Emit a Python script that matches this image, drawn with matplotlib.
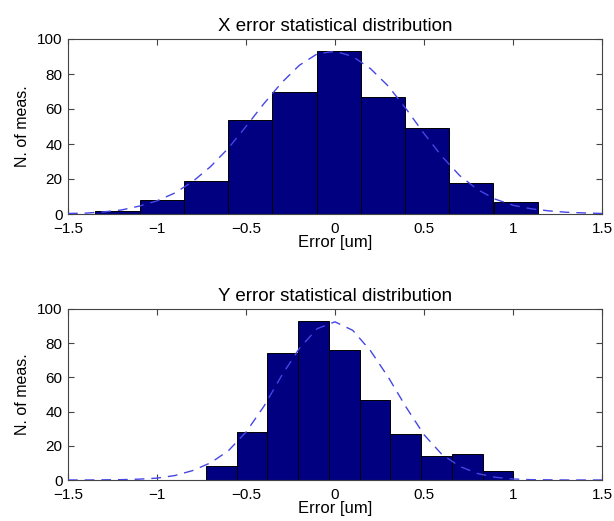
import matplotlib
matplotlib.use("Agg")
import matplotlib.pyplot as plt

# ── Data ─────────────────────────────────────────────────
X_CENTERS = [-1.222, -0.973, -0.725, -0.476, -0.228, 0.021, 0.269, 0.518, 0.766, 1.015]
X_COUNTS  = [2, 8, 19, 54, 70, 93, 67, 49, 18, 7]
X_WIDTH   = 0.2485

Y_CENTERS = [-0.639, -0.466, -0.293, -0.121, 0.052, 0.225, 0.398, 0.570, 0.743, 0.916]
Y_COUNTS  = [8, 28, 74, 93, 76, 47, 27, 14, 15, 5]
Y_WIDTH   = 0.1727

FIT_X = [-1.5, -1.4, -1.3, -1.2, -1.1, -1.0, -0.9, -0.8, -0.7, -0.6, -0.5,
         -0.4, -0.3, -0.2, -0.1, 0.0, 0.1, 0.2, 0.3, 0.4, 0.5,
         0.6, 0.7, 0.8, 0.9, 1.0, 1.1, 1.2, 1.3, 1.4, 1.5]
FIT_XERR = [0.3, 0.5, 1.2, 2.3, 4.5, 7.5, 12, 18.5, 27, 37.5, 50,
            63, 75, 85, 91.5, 93, 90, 83, 73, 60, 46,
            33, 22, 14, 8.5, 5, 3, 1.8, 1.0, 0.6, 0.3]
FIT_YERR = [0, 0, 0.1, 0.2, 0.5, 1.1, 2.6, 5.5, 10, 17, 28,
            43, 61, 77, 88.5, 92.5, 87.5, 75.5, 60, 42.5, 26.5,
            15, 8, 3.8, 1.6, 0.6, 0.2, 0.1, 0, 0, 0]

XTICKS  = [-1.5, -1, -0.5, 0, 0.5, 1, 1.5]
XLABELS = ["\u22121.5", "\u22121", "\u22120.5", "0", "0.5", "1", "1.5"]
YTICKS  = [0, 20, 40, 60, 80, 100]

# ── Style ────────────────────────────────────────────────
NAVY = "#000080"; DASH = "#4646e6"; AXC = "#444444"
plt.rcParams.update({
    "font.family": ["Liberation Sans", "DejaVu Sans"], "font.size": 11,
    "xtick.direction": "in", "ytick.direction": "in",
    "xtick.top": True, "ytick.right": True,
    "xtick.major.size": 4, "ytick.major.size": 4,
    "xtick.major.pad": 6, "ytick.major.pad": 4,
    "xtick.color": AXC, "ytick.color": AXC,
    "xtick.labelcolor": "black", "ytick.labelcolor": "black",
})

W, H = 614, 521
fig = plt.figure(figsize=(W / 100, H / 100), dpi=100)
ax1 = fig.add_axes([68 / W, (H - 214) / H, 534 / W, 175 / H])
ax2 = fig.add_axes([68 / W, (H - 480) / H, 534 / W, 171 / H])

panels = [
    (ax1, X_CENTERS, X_COUNTS, X_WIDTH, FIT_XERR, "X error statistical distribution"),
    (ax2, Y_CENTERS, Y_COUNTS, Y_WIDTH, FIT_YERR, "Y error statistical distribution"),
]

for ax, cen, cnt, w, fit, title in panels:
    ax.bar(cen, cnt, width=w, color=NAVY, edgecolor="black", linewidth=0.7, zorder=2)
    ax.plot(FIT_X, fit, linestyle=(0, (7, 5)), color=DASH, linewidth=1.0, zorder=3)
    ax.set_xlim(-1.5, 1.5)
    ax.set_ylim(0, 100)
    ax.set_xticks(XTICKS)
    ax.set_xticklabels(XLABELS)
    ax.set_yticks(YTICKS)
    ax.set_title(title, fontsize=13.5, pad=6)
    ax.set_xlabel("Error [um]", fontsize=12, labelpad=-1)
    ax.set_ylabel("N. of meas.", fontsize=11.5, labelpad=5)
    for sp in ax.spines.values():
        sp.set_color(AXC)
        sp.set_linewidth(0.8)

fig.savefig("out.png", dpi=100, facecolor="white")
